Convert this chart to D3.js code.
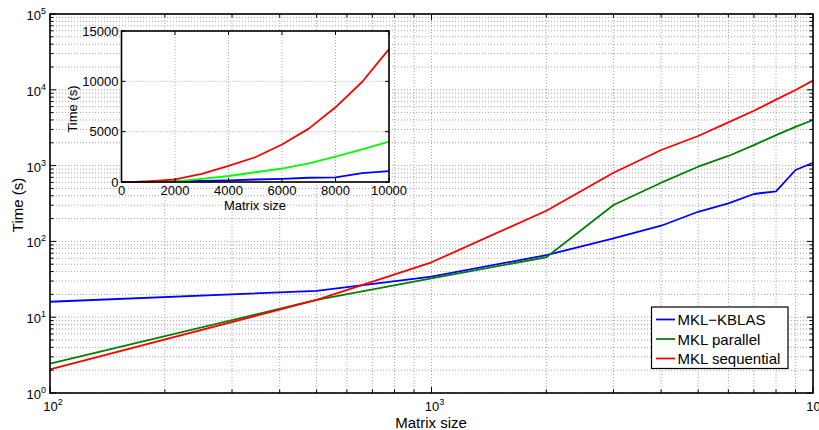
<!DOCTYPE html>
<html>
<head>
<meta charset="utf-8">
<script src="https://cdn.jsdelivr.net/npm/d3@7"></script>
<style>
  body { margin: 0; background: #fff; }
  svg text { font-family: "Liberation Sans", Arial, sans-serif; fill: #000; }
</style>
</head>
<body>
<svg id="chart" width="819" height="430"></svg>
<script>
// matrix sizes and timings (seconds)
const sizes = [100, 500, 1000, 2000, 3000, 4000, 5000, 6000, 7000, 8000, 9000, 10000];
const kblas = [16, 22.3, 34.2, 66, 110, 161, 246, 318, 422, 458, 875, 1090];
const parallel = [2.44, 16.9, 32.6, 61.8, 302, 595, 967, 1340, 1860, 2520, 3250, 4000];
const sequential = [2.05, 16.9, 53, 254, 806, 1606, 2460, 3720, 5300, 7420, 9960, 13200];
const seriesNames = ['MKL\u2212KBLAS', 'MKL parallel', 'MKL sequential'];

const xDecades = [2, 3, 4];
const yDecades = [0, 1, 2, 3, 4, 5];
const insetXTicks = [0, 2000, 4000, 6000, 8000, 10000];
const insetYTicks = [0, 5000, 10000, 15000];

const mainColors = ['#0000ff', '#008000', '#ff0000'];
const insetColors = ['#0000ff', '#00ff00', '#ff0000'];

const svg = d3.select('#chart');
const series = [kblas, parallel, sequential];

// ---- main log-log axes ----
const m = { left: 50, right: 813, top: 14, bottom: 393 };
const x = d3.scaleLog().domain([100, 10000]).range([m.left, m.right]);
const y = d3.scaleLog().domain([1, 100000]).range([m.bottom, m.top]);

const minorOf = (lo, hi) => {
  const out = [];
  for (let e = lo; e < hi; e++) for (let k = 1; k < 10; k++) out.push(k * Math.pow(10, e));
  out.push(Math.pow(10, hi));
  return out;
};
const xAll = minorOf(2, 4);
const yAll = minorOf(0, 5);
const isMajor = v => Math.abs(Math.log10(v) - Math.round(Math.log10(v))) < 1e-9;

const grid = svg.append('g').attr('stroke', '#a8a8a8').attr('stroke-width', 1).attr('stroke-dasharray', '1,2');
xAll.forEach(v => grid.append('line').attr('x1', x(v)).attr('x2', x(v)).attr('y1', m.top).attr('y2', m.bottom));
yAll.forEach(v => grid.append('line').attr('y1', y(v)).attr('y2', y(v)).attr('x1', m.left).attr('x2', m.right));

const line = d3.line().x(d => x(d[0])).y(d => y(d[1]));
series.forEach((vals, i) => {
  svg.append('path')
    .datum(sizes.map((s, j) => [s, vals[j]]))
    .attr('d', line)
    .attr('fill', 'none')
    .attr('stroke', mainColors[i])
    .attr('stroke-width', 1.8)
    .attr('stroke-linejoin', 'round');
});

// inward ticks on all four sides
const ticks = svg.append('g').attr('stroke', '#000').attr('stroke-width', 1);
xAll.forEach(v => {
  const len = isMajor(v) ? 6 : 3.5;
  ticks.append('line').attr('x1', x(v)).attr('x2', x(v)).attr('y1', m.bottom).attr('y2', m.bottom - len);
  ticks.append('line').attr('x1', x(v)).attr('x2', x(v)).attr('y1', m.top).attr('y2', m.top + len);
});
yAll.forEach(v => {
  const len = isMajor(v) ? 6 : 3.5;
  ticks.append('line').attr('y1', y(v)).attr('y2', y(v)).attr('x1', m.left).attr('x2', m.left + len);
  ticks.append('line').attr('y1', y(v)).attr('y2', y(v)).attr('x1', m.right).attr('x2', m.right - len);
});
svg.append('rect')
  .attr('x', m.left).attr('y', m.top)
  .attr('width', m.right - m.left).attr('height', m.bottom - m.top)
  .attr('fill', 'none').attr('stroke', '#000').attr('stroke-width', 1.6);

// power-of-ten labels
function powLabel(g, px, py, exp, anchor) {
  const t = g.append('text').attr('x', px).attr('y', py).attr('text-anchor', anchor).style('font-size', '13px');
  t.append('tspan').text('10');
  t.append('tspan').attr('dy', -6).style('font-size', '9px').text(exp);
}
yDecades.forEach(e => powLabel(svg, 46, y(Math.pow(10, e)) + 6, e, 'end'));
xDecades.forEach(e => powLabel(svg, x(Math.pow(10, e)) + 3, 411, e, 'middle'));

svg.append('text')
  .attr('x', 431).attr('y', 427.5)
  .attr('text-anchor', 'middle')
  .style('font-size', '15px')
  .text('Matrix size');
svg.append('text')
  .attr('transform', 'translate(23,205) rotate(-90)')
  .attr('text-anchor', 'middle')
  .style('font-size', '15px')
  .text('Time (s)');

// ---- legend ----
const lg = svg.append('g');
lg.append('rect')
  .attr('x', 651.5).attr('y', 307).attr('width', 136.5).attr('height', 61.5)
  .attr('fill', '#fff').attr('stroke', '#000').attr('stroke-width', 1.2);
seriesNames.forEach((name, i) => {
  const ly = 319.5 + i * 19.5;
  lg.append('line').attr('x1', 656).attr('x2', 675).attr('y1', ly).attr('y2', ly)
    .attr('stroke', mainColors[i]).attr('stroke-width', 1.8);
  lg.append('text').attr('x', 677.5).attr('y', ly + 5.5).style('font-size', '15px').text(name);
});

// ---- inset, linear axes ----
const n = { left: 121.5, right: 389, top: 31, bottom: 182 };
const ix = d3.scaleLinear().domain([0, 10000]).range([n.left, n.right]);
const iy = d3.scaleLinear().domain([0, 15000]).range([n.bottom, n.top]);

svg.append('rect')
  .attr('x', n.left).attr('y', n.top)
  .attr('width', n.right - n.left).attr('height', n.bottom - n.top)
  .attr('fill', '#fff');

const igrid = svg.append('g').attr('stroke', '#a8a8a8').attr('stroke-width', 1).attr('stroke-dasharray', '1,2');
insetXTicks.forEach(v => igrid.append('line').attr('x1', ix(v)).attr('x2', ix(v)).attr('y1', n.top).attr('y2', n.bottom));
insetYTicks.forEach(v => igrid.append('line').attr('y1', iy(v)).attr('y2', iy(v)).attr('x1', n.left).attr('x2', n.right));

const iline = d3.line().x(d => ix(d[0])).y(d => iy(d[1]));
series.forEach((vals, i) => {
  svg.append('path')
    .datum([[0, 0]].concat(sizes.map((s, j) => [s, vals[j]])))
    .attr('d', iline)
    .attr('fill', 'none')
    .attr('stroke', insetColors[i])
    .attr('stroke-width', 1.8)
    .attr('stroke-linejoin', 'round');
});

const iticks = svg.append('g').attr('stroke', '#000').attr('stroke-width', 1);
insetXTicks.forEach(v => {
  iticks.append('line').attr('x1', ix(v)).attr('x2', ix(v)).attr('y1', n.bottom).attr('y2', n.bottom - 4);
  iticks.append('line').attr('x1', ix(v)).attr('x2', ix(v)).attr('y1', n.top).attr('y2', n.top + 4);
});
insetYTicks.forEach(v => {
  iticks.append('line').attr('y1', iy(v)).attr('y2', iy(v)).attr('x1', n.left).attr('x2', n.left + 4);
  iticks.append('line').attr('y1', iy(v)).attr('y2', iy(v)).attr('x1', n.right).attr('x2', n.right - 4);
});
svg.append('rect')
  .attr('x', n.left).attr('y', n.top)
  .attr('width', n.right - n.left).attr('height', n.bottom - n.top)
  .attr('fill', 'none').attr('stroke', '#000').attr('stroke-width', 1.6);

insetXTicks.forEach(v => svg.append('text')
  .attr('x', ix(v)).attr('y', 195)
  .attr('text-anchor', 'middle').style('font-size', '13px').text(v));
insetYTicks.forEach(v => svg.append('text')
  .attr('x', 118.5).attr('y', iy(v) + 4.5)
  .attr('text-anchor', 'end').style('font-size', '13px').text(v));

svg.append('text')
  .attr('x', 255).attr('y', 209.5)
  .attr('text-anchor', 'middle').style('font-size', '13px').text('Matrix size');
svg.append('text')
  .attr('transform', 'translate(77,109) rotate(-90)')
  .attr('text-anchor', 'middle').style('font-size', '13px').text('Time (s)');
</script>
</body>
</html>
